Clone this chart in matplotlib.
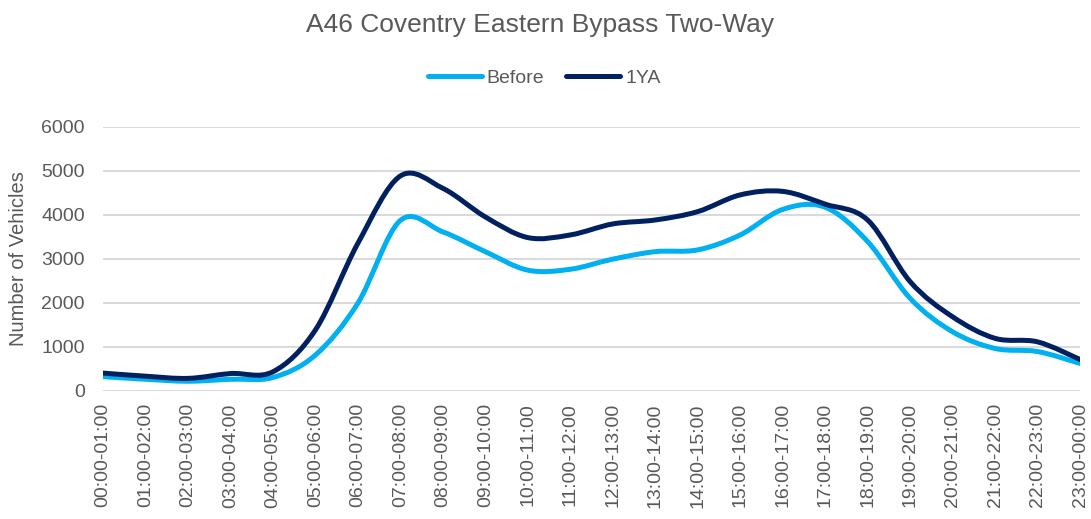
import matplotlib
matplotlib.use("Agg")
import matplotlib.pyplot as plt
import numpy as np
from matplotlib.path import Path
from matplotlib.patches import PathPatch
from matplotlib.lines import Line2D

plt.rcParams['font.family'] = ['Liberation Sans', 'DejaVu Sans']

categories = ["00:00-01:00", "01:00-02:00", "02:00-03:00", "03:00-04:00", "04:00-05:00",
              "05:00-06:00", "06:00-07:00", "07:00-08:00", "08:00-09:00", "09:00-10:00",
              "10:00-11:00", "11:00-12:00", "12:00-13:00", "13:00-14:00", "14:00-15:00",
              "15:00-16:00", "16:00-17:00", "17:00-18:00", "18:00-19:00", "19:00-20:00",
              "20:00-21:00", "21:00-22:00", "22:00-23:00", "23:00-00:00"]
before = [320, 260, 215, 260, 300, 810, 1990, 3870, 3610, 3160, 2740, 2760,
          2990, 3160, 3200, 3540, 4120, 4170, 3390, 2100, 1340, 960, 890, 620]
one_ya = [400, 330, 280, 390, 430, 1380, 3350, 4880, 4600, 3950, 3480, 3540,
          3790, 3880, 4070, 4450, 4530, 4240, 3880, 2480, 1680, 1190, 1110, 710]
yticks = [0, 1000, 2000, 3000, 4000, 5000, 6000]

TEXT = '#595959'
C_BEFORE = '#00B0F0'
C_1YA = '#002060'


def smooth_path(xs, ys):
    pts = np.column_stack([xs, ys]).astype(float)
    n = len(pts)
    verts = [pts[0]]
    codes = [Path.MOVETO]
    for i in range(n - 1):
        p0 = pts[i - 1] if i > 0 else pts[i]
        p1 = pts[i]
        p2 = pts[i + 1]
        p3 = pts[i + 2] if i + 2 < n else pts[i + 1]
        c1 = p1 + (p2 - p0) / 6.0
        c2 = p2 - (p3 - p1) / 6.0
        verts += [c1, c2, p2]
        codes += [Path.CURVE4] * 3
    return Path(verts, codes)


fig = plt.figure(figsize=(10.91, 5.19), dpi=100)
ax = fig.add_axes([103 / 1091, 1 - 390.7 / 519, (1080 - 103) / 1091, (390.7 - 126.7) / 519])

x = np.arange(len(categories))
for vals, col in [(before, C_BEFORE), (one_ya, C_1YA)]:
    patch = PathPatch(smooth_path(x, vals), facecolor='none', edgecolor=col,
                      linewidth=3.6, capstyle='round', joinstyle='round', zorder=3)
    ax.add_patch(patch)

ax.set_xlim(0, len(categories) - 1)
ax.set_ylim(0, 6000)
ax.set_yticks(yticks)
ax.set_yticklabels([str(v) for v in yticks])
ax.set_xticks(x)
ax.set_xticklabels(categories, rotation=90, ha='center', va='top')
ax.grid(axis='y', color='#D9D9D9', linewidth=1.4, zorder=0)
ax.set_axisbelow(True)
for s in ax.spines.values():
    s.set_visible(False)
ax.tick_params(axis='both', length=0, labelsize=14, colors=TEXT)
ax.tick_params(axis='y', pad=13)
ax.tick_params(axis='x', pad=9)

fig.text(19 / 1091, 1 - 258.7 / 519, "Number of Vehicles", rotation=90, ha='center', va='center',
         fontsize=14.5, color=TEXT)
fig.text(540 / 1091, 1 - 25 / 519, "A46 Coventry Eastern Bypass Two-Way", ha='center', va='center',
         fontsize=19, color=TEXT)

handles = [Line2D([], [], color=C_BEFORE, lw=3.6, solid_capstyle='round'),
           Line2D([], [], color=C_1YA, lw=3.6, solid_capstyle='round')]
fig.legend(handles, ["Before", "1YA"], loc='center', bbox_to_anchor=(544 / 1091, 1 - 78 / 519),
           ncol=2, frameon=False, fontsize=14, labelcolor=TEXT, handlelength=2.8,
           handletextpad=0.25, columnspacing=1.1)

fig.savefig("out.png", dpi=100)
